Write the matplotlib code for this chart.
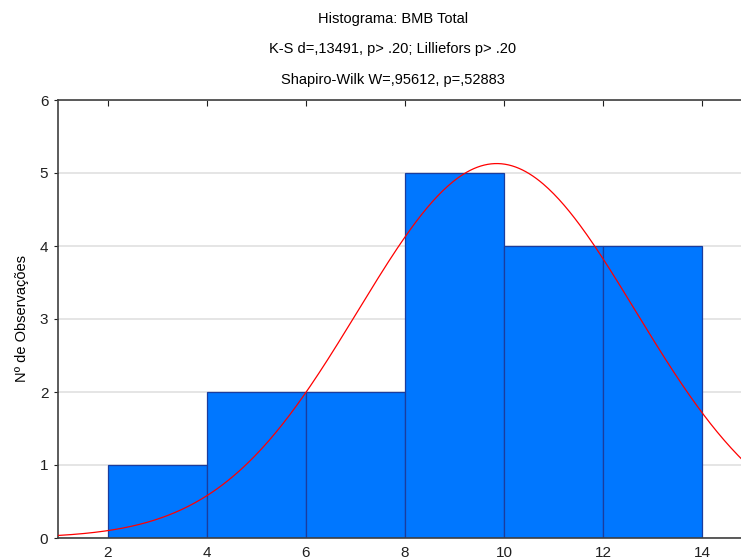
import numpy as np
import matplotlib.pyplot as plt

plt.rcParams['font.family'] = ['Liberation Sans', 'DejaVu Sans']

# histogram of BMB Total
bin_edges = [2, 4, 6, 8, 10, 12, 14]
counts = [1, 2, 2, 5, 4, 4]

# fitted normal curve parameters
fit_mean = 9.85
fit_sd = 2.80

title_lines = [
    "Histograma: BMB Total",
    "K-S d=,13491, p> .20; Lilliefors p> .20",
    "Shapiro-Wilk W=,95612, p=,52883",
]
x_ticks = [2, 4, 6, 8, 10, 12, 14]
y_ticks = [0, 1, 2, 3, 4, 5, 6]

fig = plt.figure(figsize=(7.41, 5.60), dpi=100)
ax = fig.add_axes([58 / 741, 22 / 560, 694 / 741, 438 / 560])

widths = np.diff(bin_edges)
ax.bar(bin_edges[:-1], counts, width=widths, align='edge',
       color='#0077ff', edgecolor='#1a3d9e', linewidth=0.9, zorder=2)

n_total = sum(counts)
bw = widths[0]
xs = np.linspace(1, 15, 400)
pdf = np.exp(-0.5 * ((xs - fit_mean) / fit_sd) ** 2) / (fit_sd * np.sqrt(2 * np.pi))
ax.plot(xs, n_total * bw * pdf, color='#ff0000', linewidth=0.9, zorder=3)

ax.set_xlim(1, 15)
ax.set_ylim(0, 6)
ax.set_xticks(x_ticks)
ax.set_yticks(y_ticks)
ax.yaxis.grid(True, color='#e0e0e0', linewidth=1.2, zorder=0)
ax.set_axisbelow(True)

for side in ['left', 'bottom', 'top', 'right']:
    ax.spines[side].set_color('#404040')
    ax.spines[side].set_linewidth(1.2)

ax.tick_params(axis='x', which='both', direction='in', top=True, bottom=False,
               length=4, labelsize=11, pad=6, colors='#202020')
ax.tick_params(axis='y', direction='out', length=3, labelsize=11, pad=4,
               colors='#202020')

ax.set_ylabel("Nº de Observações", fontsize=10.5, labelpad=8)

for i, line in enumerate(title_lines):
    fig.text(393 / 741, 1 - (19 + 30.5 * i) / 560, line, ha='center',
             va='center', fontsize=10.5)

fig.savefig("out.png", dpi=100)
